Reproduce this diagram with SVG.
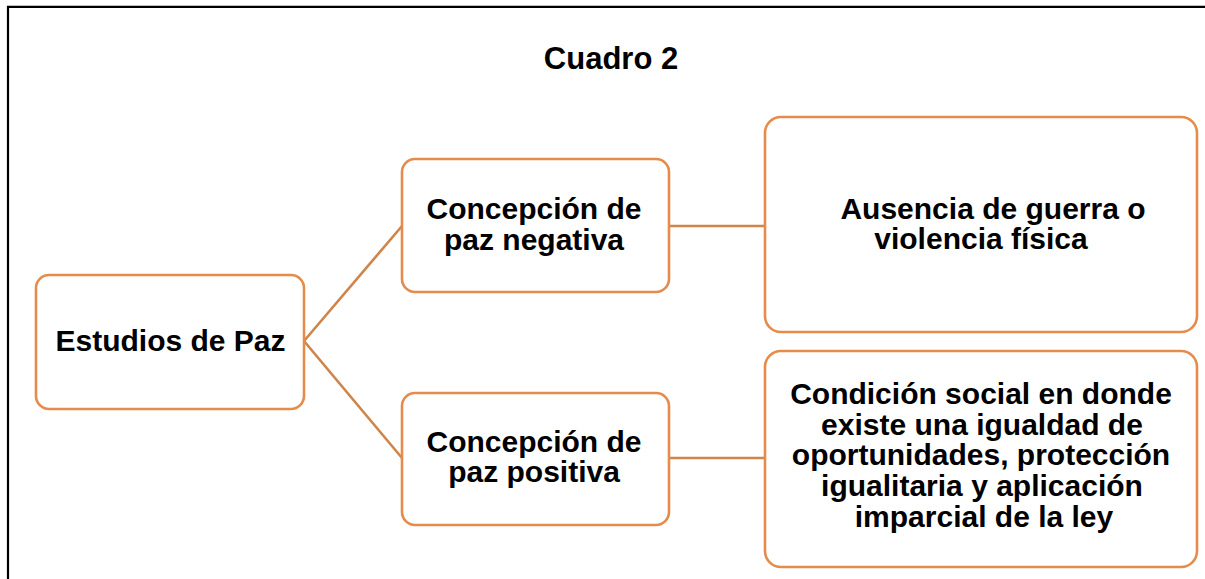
<svg xmlns="http://www.w3.org/2000/svg" width="1205" height="579" viewBox="0 0 1205 579">
<style>
.box{fill:#fff;stroke:#E58B4C;stroke-width:2.6}
.lbl{font-family:"Liberation Sans",Arial,sans-serif;font-weight:bold;font-size:30px;fill:#000;text-anchor:middle}
.conn{stroke:#CF844A;stroke-width:2.6;fill:none}
.frame{stroke:#000;stroke-width:2.2;fill:none}
</style>
<rect width="1205" height="579" fill="#fff"/>
<path class="frame" d="M8,579 L8,6.8 L1205,6.8"/>
<text id="title" class="lbl" x="611" y="69" style="font-size:31px">Cuadro 2</text>
<g id="connectors">
<line class="conn" x1="304" y1="341" x2="402" y2="226"/>
<line class="conn" x1="304" y1="341" x2="402" y2="458"/>
<line class="conn" x1="669" y1="226" x2="765" y2="226"/>
<line class="conn" x1="669" y1="458" x2="765" y2="458"/>
</g>
<g id="estudios">
<rect class="box" x="36" y="275" width="268" height="134" rx="13"/>
<text class="lbl" x="170.5" y="351">Estudios de Paz</text>
</g>
<g id="negativa">
<rect class="box" x="402" y="159" width="267" height="133" rx="13"/>
<text class="lbl" x="534" y="219">Concepción de</text>
<text class="lbl" x="534" y="250">paz negativa</text>
</g>
<g id="positiva">
<rect class="box" x="402" y="393" width="267" height="132" rx="13"/>
<text class="lbl" x="534" y="452">Concepción de</text>
<text class="lbl" x="534" y="482">paz positiva</text>
</g>
<g id="ausencia">
<rect class="box" x="765" y="117" width="432" height="215" rx="16"/>
<text class="lbl" x="993" y="218.5">Ausencia de guerra o</text>
<text class="lbl" x="981" y="249">violencia física</text>
</g>
<g id="condicion">
<rect class="box" x="765" y="351" width="432" height="216" rx="16"/>
<text class="lbl" x="981" y="404">Condición social en donde</text>
<text class="lbl" x="982" y="434.5">existe una igualdad de</text>
<text class="lbl" x="981" y="465">oportunidades, protección</text>
<text class="lbl" x="982" y="496">igualitaria y aplicación</text>
<text class="lbl" x="984" y="526.7">imparcial de la ley</text>
</g>
</svg>
